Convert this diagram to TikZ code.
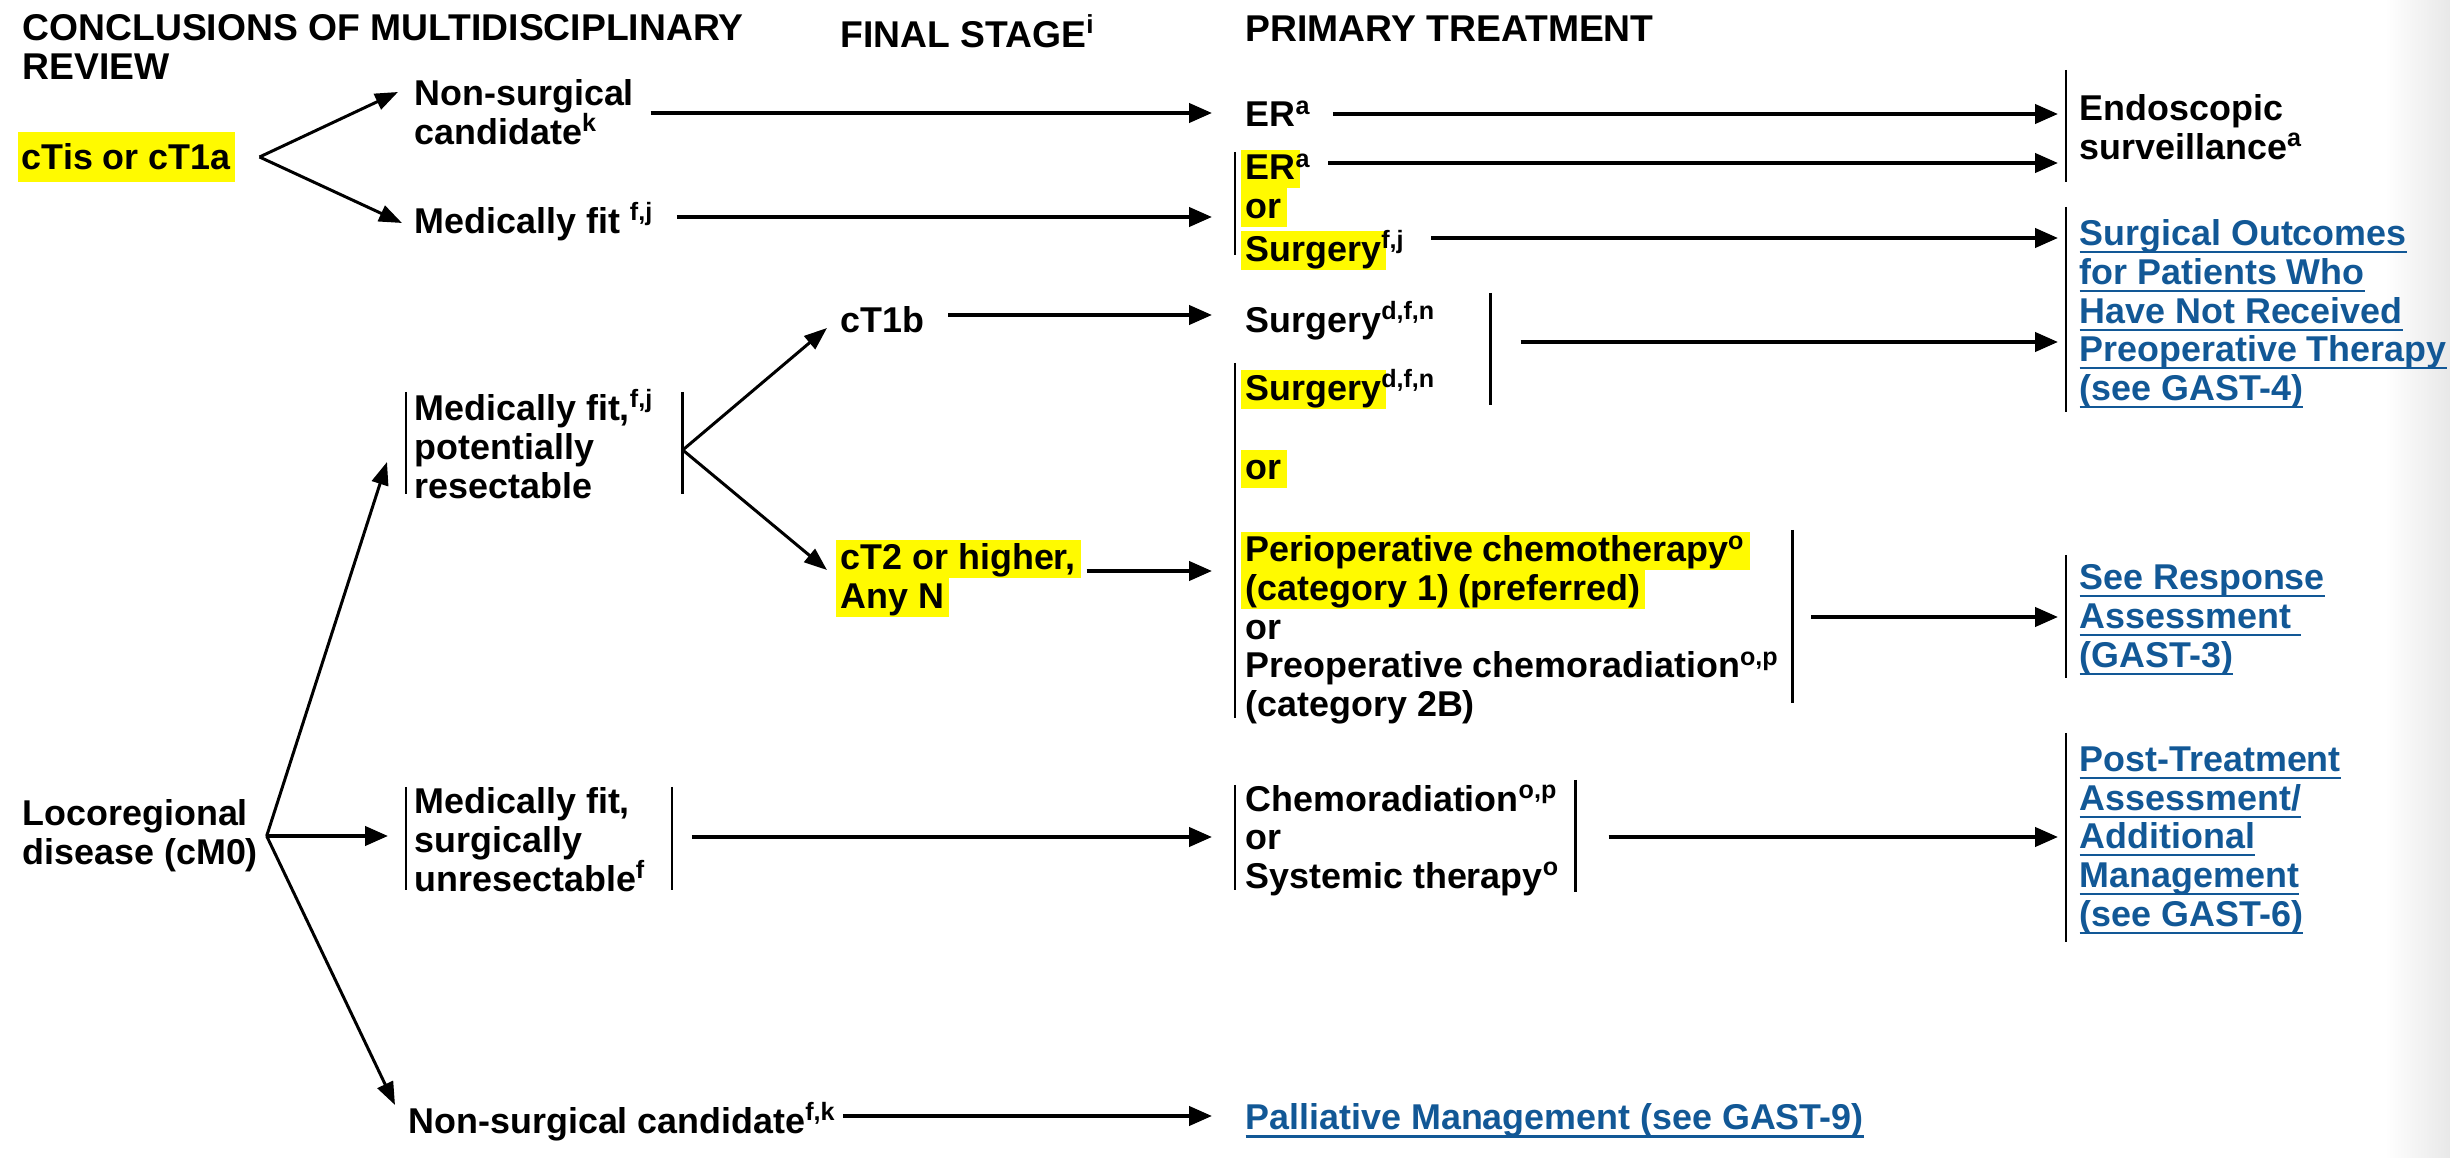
\documentclass[tikz,border=0pt]{standalone}
\usepackage{fontspec}
\setmainfont{Liberation Sans}
\usetikzlibrary{arrows.meta,calc}
\definecolor{hlyellow}{RGB}{255,250,0}
\definecolor{linkblue}{RGB}{18,88,150}
\newcommand\bodyfont{\fontsize{10.2}{11}\selectfont\bfseries}
\newcommand\headfont{\fontsize{10.6}{11}\selectfont\bfseries}
\newcommand\hl[1]{{\setbox0=\hbox{#1}\rlap{\hspace{-1.4pt}\textcolor{hlyellow}{\rule[-2.4pt]{\dimexpr\wd0+2.8pt\relax}{11pt}}}\box0}}
\newcommand\lk[1]{{\setbox0=\hbox{#1}\rlap{\rule[-2.2pt]{\wd0}{0.6pt}}\box0}}
\tikzset{
  txt/.style={anchor=north west, inner sep=0pt, align=left, font=\bodyfont,
              execute at begin node=\strut, execute at end node=\strut},
  hdr/.style={txt, font=\headfont},
  lnk/.style={txt, text=linkblue},
  hlbox/.style={anchor=west, fill=hlyellow, inner sep=0pt, minimum width=2.17cm,
                minimum height=0.5cm, font=\bodyfont},
  arr/.style={line width=1.1pt, -{Triangle[length=6.5pt,width=5.4pt]}},
  darr/.style={line width=0.85pt, -{Triangle[length=6.5pt,width=4.8pt]}},
  bar/.style={line width=0.75pt},
}
\begin{document}
\begin{tikzpicture}[x=0.01cm,y=-0.01cm]
\useasboundingbox (0,0) rectangle (2450,1158);
\fill[white] (0,0) rectangle (2450,1158);
\shade[left color=white, right color=black!9] (2385,0) rectangle (2450,1158);

% headers
\node[hdr] (h1) at (22,14) {CONCLUSIONS OF MULTIDISCIPLINARY\\REVIEW};
\node[hdr] (h2) at (840,14) {FINAL STAGE\textsuperscript{i}};
\node[hdr] (h3) at (1245,14) {PRIMARY TREATMENT};

% left column
\node[hlbox] (ctis) at (17,157) {cTis or cT1a};
\node[txt] (loco) at (22,799) {Locoregional\\disease (cM0)};

% conclusions
\node[txt] (nsc) at (414,79) {Non-surgical\\candidate\textsuperscript{k}};
\node[txt] (mf1) at (414,202) {Medically fit \textsuperscript{f,j}};
\node[txt] (mfpr) at (414,389) {Medically fit,\textsuperscript{f,j}\\potentially\\resectable};
\node[txt] (mfsu) at (414,787) {Medically fit,\\surgically\\unresectable\textsuperscript{f}};
\node[txt] (nsc2) at (408,1102) {Non-surgical candidate\textsuperscript{f,k}};

% final stage
\node[txt] (ct1b) at (840,305) {cT1b};
\node[txt] (ct2) at (840,539) {\hl{cT2 or higher,}\\\hl{Any N}};

% primary treatment
\node[txt] (er1) at (1245,99) {ER\textsuperscript{a}};
\node[txt] (ersg) at (1245,149) {\hl{ER}\textsuperscript{a}\\\hl{or}\\\hl{Surgery}\textsuperscript{f,j}};
\node[txt] (surg1) at (1245,301) {Surgery\textsuperscript{d,f,n}};
\node[txt] (surg2) at (1245,369) {\hl{Surgery}\textsuperscript{d,f,n}};
\node[txt] (orA) at (1245,449) {\hl{or}};
\node[txt] (peri) at (1245,531) {\hl{Perioperative chemotherapy\textsuperscript{o}}\\\hl{(category 1) (preferred)}\\or\\Preoperative chemoradiation\textsuperscript{o,p}\\(category 2B)};
\node[txt] (chemo) at (1245,784) {Chemoradiation\textsuperscript{o,p}\\or\\Systemic therapy\textsuperscript{o}};
\node[lnk] (pall) at (1245,1102) {\lk{Palliative Management (see GAST-9)}};

% outcomes
\node[txt] (endo) at (2079,94) {Endoscopic\\surveillance\textsuperscript{a}};
\node[lnk] (so) at (2079,219) {\lk{Surgical Outcomes}\\\lk{for Patients Who}\\\lk{Have Not Received}\\\lk{Preoperative Therapy}\\\lk{(see GAST-4)}};
\node[lnk] (sra) at (2079,564) {\lk{See Response}\\\lk{Assessment }\\\lk{(GAST-3)}};
\node[lnk] (pta) at (2079,746) {\lk{Post-Treatment}\\\lk{Assessment/}\\\lk{Additional}\\\lk{Management}\\\lk{(see GAST-6)}};

% cTis branch
\coordinate (v1) at ($(ctis.east)+(24,0)$);
\draw[darr] (v1) -- ($(nsc.north west)+(-16,13)$);
\draw[darr] (v1) -- ($(mf1.north west)+(-12,21)$);
\draw[arr] ($(nsc.north east)+(16,34)$) -- ($(er1.north west)+(-33,14)$);
\draw[arr] ($(mf1.north east)+(22,15)$) -- ($(ersg.north west)+(-33,68)$);
\draw[arr] ($(er1.north east)+(21,15)$) -- ($(endo.north west)+(-21,20)$);
\draw[arr] ($(ersg.north west)+(83,14)$) -- ($(endo.north west)+(-21,69)$);
\draw[arr] ($(ersg.north east)+(25,89)$) -- ($(so.north west)+(-21,19)$);
\draw[bar] ($(ersg.north west)+(-10,3)$) -- ($(ersg.north west)+(-10,106)$);
\draw[bar] ($(endo.north west)+(-13,-24)$) -- ($(endo.north west)+(-13,88)$);

% potentially resectable
\coordinate (v2) at ($(mfpr.north east)+(28,61)$);
\draw[bar] ($(mfpr.north west)+(-8,3)$) -- ($(mfpr.north west)+(-8,105)$);
\draw[bar] ($(v2)+(0,-58)$) -- ($(v2)+(0,44)$);
\draw[darr] (v2) -- ($(ct1b.north west)+(-13,23)$);
\draw[darr] (v2) -- ($(ct2.north west)+(-13,31)$);
\draw[arr] ($(ct1b.north east)+(23,10)$) -- ($(surg1.north west)+(-33,14)$);
\draw[arr] ($(ct2.north east)+(10,32)$) -- ($(peri.north west)+(-33,40)$);
\draw[bar] ($(surg1.north east)+(54,-8)$) -- ($(surg1.north east)+(54,104)$);
\draw[arr] ($(surg1.north east)+(84,41)$) -- ($(so.north west)+(-21,123)$);
\draw[bar] ($(surg2.north west)+(-10,-6)$) -- ($(peri.north west)+(-10,187)$);
\draw[bar] ($(peri.north east)+(12,-1)$) -- ($(peri.north east)+(12,172)$);
\draw[arr] ($(peri.north east)+(31,86)$) -- ($(sra.north west)+(-21,53)$);
\draw[bar] ($(so.north west)+(-13,-12)$) -- ($(so.north west)+(-13,193)$);
\draw[bar] ($(sra.north west)+(-13,-9)$) -- ($(sra.north west)+(-13,114)$);

% locoregional
\coordinate (v3) at ($(loco.north east)+(8,37)$);
\draw[darr] (v3) -- ($(mfpr.north west)+(-27,73)$);
\draw[arr] (v3) -- ($(mfsu.north west)+(-26,49)$);
\draw[darr] (v3) -- ($(nsc2.north west)+(-13,3)$);
\draw[bar] ($(mfsu.north west)+(-8,0)$) -- ($(mfsu.north west)+(-8,103)$);
\draw[bar] ($(mfsu.north east)+(25,0)$) -- ($(mfsu.north east)+(25,103)$);
\draw[arr] ($(mfsu.north east)+(45,50)$) -- ($(chemo.north west)+(-33,53)$);
\draw[bar] ($(chemo.north west)+(-10,1)$) -- ($(chemo.north west)+(-10,106)$);
\draw[bar] ($(chemo.north east)+(15,-4)$) -- ($(chemo.north east)+(15,108)$);
\draw[arr] ($(chemo.north east)+(48,53)$) -- ($(pta.north west)+(-21,91)$);
\draw[bar] ($(pta.north west)+(-13,-13)$) -- ($(pta.north west)+(-13,196)$);
\draw[arr] ($(nsc2.north east)+(6,14)$) -- ($(pall.north west)+(-33,14)$);
\end{tikzpicture}
\end{document}
